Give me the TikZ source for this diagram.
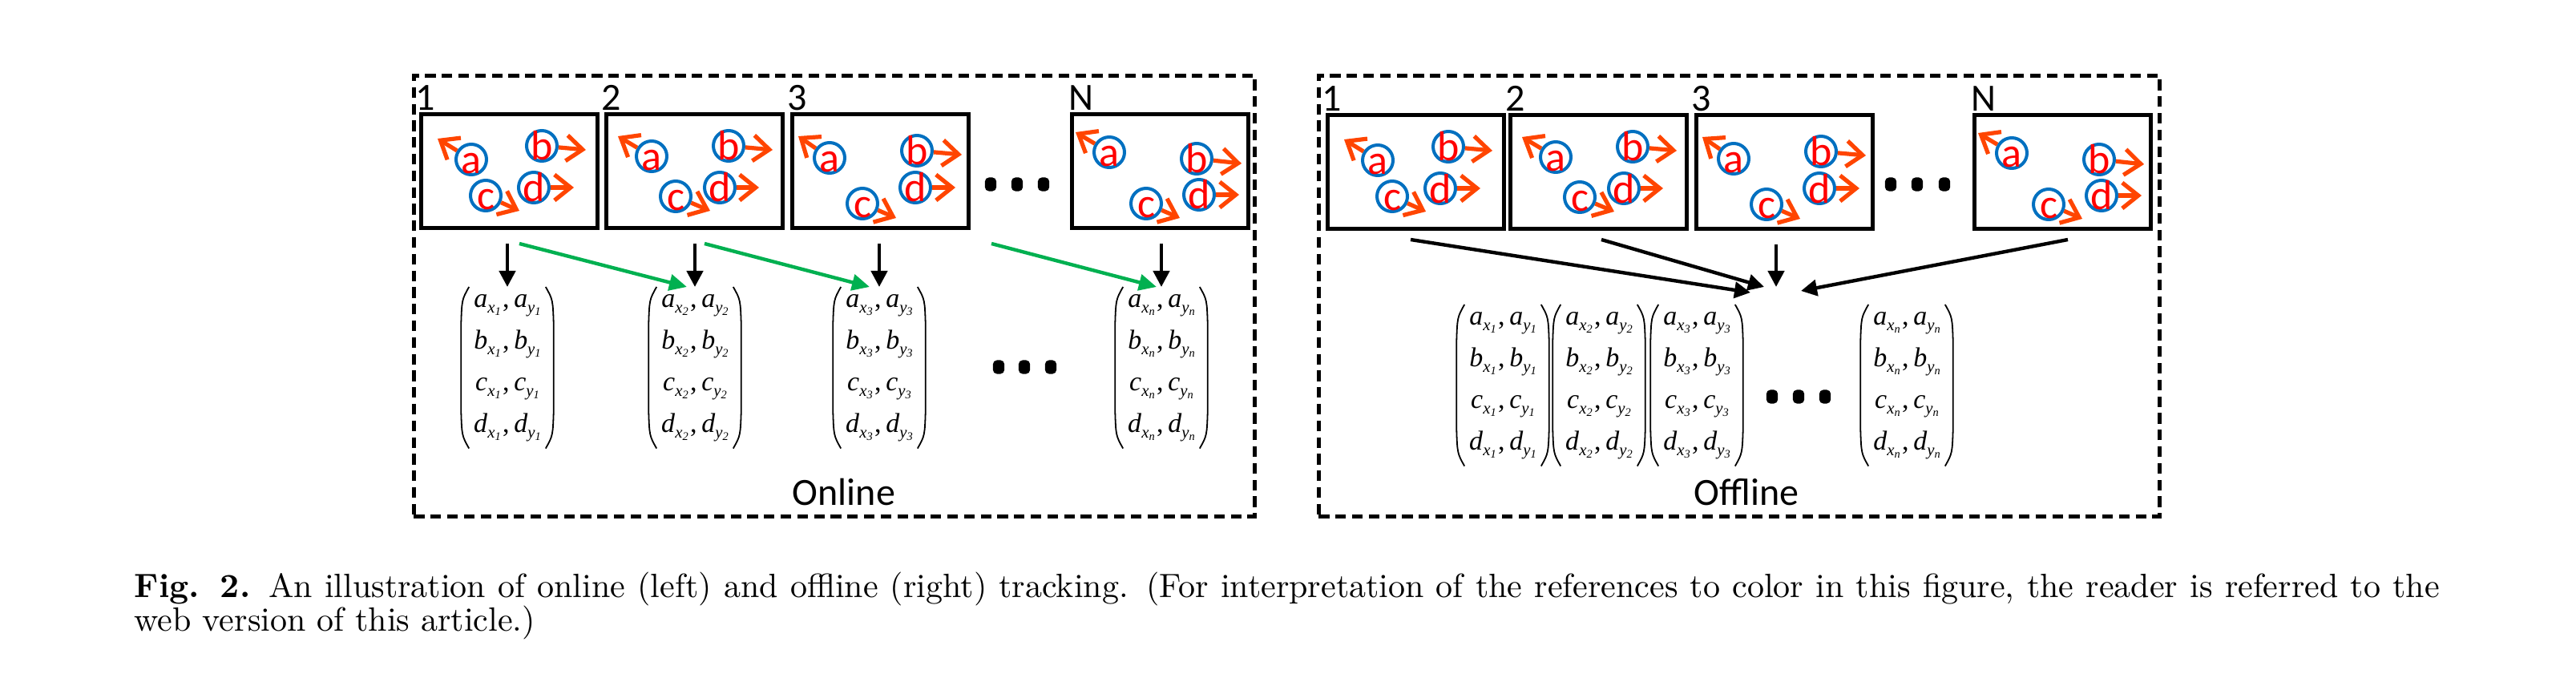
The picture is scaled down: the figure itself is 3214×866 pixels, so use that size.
\documentclass[tikz,border=0pt]{standalone}
\usepackage{fontspec}
\newfontfamily\calib{Carlito}
\newfontfamily\tms{Liberation Serif}
\usetikzlibrary{arrows.meta,calc}
\definecolor{cblue}{RGB}{0,112,192}
\definecolor{cred}{RGB}{255,0,0}
\definecolor{corange}{RGB}{255,69,0}
\definecolor{cgreen}{RGB}{0,176,80}

\newcommand\trackobj[6]{%
  \node[objc] (#1) at (#3,#4) {};
  \coordinate (#1t) at (#5,#6);
  \draw[motion] (#1) -- (#1t);
  \node[objl] (#1l) at (#3,{#4+18}) {#2};
}
\newcommand\contentone[1]{%
  \trackobj{#1a}{a}{65}{59}{23}{33}
  \trackobj{#1b}{b}{153}{42}{208}{47}
  \trackobj{#1c}{c}{83}{104}{125}{123}
  \trackobj{#1d}{d}{143}{94}{193}{94}
}
\newcommand\contenttwo[1]{%
  \trackobj{#1a}{a}{59}{55}{17}{30}
  \trackobj{#1b}{b}{155}{42}{210}{47}
  \trackobj{#1c}{c}{89}{105}{132}{123}
  \trackobj{#1d}{d}{144}{94}{193}{94}
}
\newcommand\contentthree[1]{%
  \trackobj{#1a}{a}{49}{57}{10}{30}
  \trackobj{#1b}{b}{158}{48}{214}{53}
  \trackobj{#1c}{c}{90}{114}{132}{132}
  \trackobj{#1d}{d}{156}{94}{206}{94}
}
\newcommand\contentlast[1]{%
  \trackobj{#1a}{a}{49}{50}{7}{25}
  \trackobj{#1b}{b}{158}{58}{214}{64}
  \trackobj{#1c}{c}{95}{114}{137}{132}
  \trackobj{#1d}{d}{161}{103}{211}{103}
}
% one coordinate symbol with a sub-subscript
\newcommand\sv[3]{\textit{#1}\raisebox{-0.45ex}{\fontsize{5.2}{5.2}\selectfont\textit{#2}\raisebox{-0.35ex}{\fontsize{3.6}{3.6}\selectfont\textit{#3}}}}
\newcommand\mrow[2]{\sv{#1}{x}{#2}\kern0.6pt,\kern1.4pt\sv{#1}{y}{#2}}
\newcommand\mtx[1]{\mrow{a}{#1}\\ \mrow{b}{#1}\\ \mrow{c}{#1}\\ \mrow{d}{#1}}
\newcommand\parpair[1]{%
  \draw[paren] ($(#1.north west)+(10,0)$) .. controls ($(#1.north west)+(1,16)$) .. ($(#1.north west)+(0,48)$)
     -- ($(#1.south west)+(0,-48)$) .. controls ($(#1.south west)+(1,-16)$) .. ($(#1.south west)+(10,0)$);
  \draw[paren] ($(#1.north east)+(-10,0)$) .. controls ($(#1.north east)+(-1,16)$) .. ($(#1.north east)+(0,48)$)
     -- ($(#1.south east)+(0,-48)$) .. controls ($(#1.south east)+(-1,-16)$) .. ($(#1.south east)+(-10,0)$);
}

\begin{document}
\begin{tikzpicture}[x=0.25pt,y=-0.25pt,
  panel/.style={draw,line width=1.2pt,dash pattern=on 3.3pt off 1.9pt,anchor=north west,inner sep=0pt,minimum width=262.25pt,minimum height=137.5pt},
  framebox/.style={draw,line width=1.3pt,minimum width=55pt,minimum height=35.5pt,anchor=north west,inner sep=0pt},
  objc/.style={circle,draw=cblue,line width=1pt,minimum size=9.5pt,inner sep=0pt},
  objl/.style={text=cred,font=\calib\fontsize{13}{13}\selectfont,anchor=base,inner sep=0pt},
  motion/.style={draw=corange,line width=1.3pt,-{Straight Barb[length=5pt,width=8pt,line width=1.3pt]}},
  flab/.style={font=\calib\fontsize{12}{12}\selectfont,anchor=base west,inner sep=0pt},
  dnarr/.style={draw,line width=1.1pt,-{Triangle[length=5pt,width=5pt]}},
  grarr/.style={draw=cgreen,line width=1.1pt,-{Triangle[length=5.5pt,width=5pt]}},
  vdot/.style={fill,rounded corners=1.3pt,minimum width=3.6pt,minimum height=4.3pt,inner sep=0pt},
  mat/.style={inner sep=0pt,anchor=north,minimum width=28.5pt,minimum height=50pt,align=center,font=\tms\fontsize{8.5}{13}\selectfont},
  paren/.style={draw,line width=0.45pt},
  ptitle/.style={font=\calib\fontsize{12}{12}\selectfont,anchor=base,inner sep=0pt},
  captext/.style={font=\fontsize{10.5}{12}\selectfont,anchor=base west,inner sep=0pt}
]
\useasboundingbox (0,0) rectangle (3214,866);

% ---------- panels ----------
\node[panel] (online) at (514,92) {};
\node[panel] (offline) at (1643,92) {};
\node[ptitle] (ontitle) at (1053,630) {Online};
\node[ptitle] (offtitle) at (2179,630) {Offline};

% ---------- online frames ----------
\node[framebox] (on1) at (523,140) {};
\node[framebox] (on2) at (754,140) {};
\node[framebox] (on3) at (986,140) {};
\node[framebox] (onN) at (1335,140) {};
\node[flab] (on1l) at (518,138) {1};
\node[flab] (on2l) at (750,138) {2};
\node[flab] (on3l) at (982,138) {3};
\node[flab] (onNl) at (1333,138) {N};
\begin{scope}[shift={(523,140)}]\contentone{pa}\end{scope}
\begin{scope}[shift={(754,140)}]\contenttwo{pb}\end{scope}
\begin{scope}[shift={(986,140)}]\contentthree{pc}\end{scope}
\begin{scope}[shift={(1335,140)}]\contentlast{pn}\end{scope}
\node[vdot] (ond1) at (1236,230) {};
\node[vdot] (ond2) at (1269,230) {};
\node[vdot] (ond3) at (1302,230) {};

% ---------- online matrices ----------
\node[mat] (m1) at (633,358) {\mtx{1}};
\node[mat] (m2) at (867,358) {\mtx{2}};
\node[mat] (m3) at (1097,358) {\mtx{3}};
\node[mat] (mN) at (1449,358) {\mtx{n}};
\parpair{m1}\parpair{m2}\parpair{m3}\parpair{mN}
\node[vdot] (onm1) at (1246,458) {};
\node[vdot] (onm2) at (1278,458) {};
\node[vdot] (onm3) at (1311,458) {};

\coordinate (s1) at (633,304);
\coordinate (s2) at (867,304);
\coordinate (s3) at (1097,304);
\coordinate (sN) at (1449,304);
\draw[dnarr] (s1) -- (m1.north);
\draw[dnarr] (s2) -- (m2.north);
\draw[dnarr] (s3) -- (m3.north);
\draw[dnarr] (sN) -- (mN.north);
\coordinate (g1) at (648,304);
\coordinate (g2) at (879,304);
\coordinate (g3) at (1237,304);
\draw[grarr] (g1) -- ([xshift=-2.5pt]m2.north);
\draw[grarr] (g2) -- ([xshift=-3pt]m3.north);
\draw[grarr] (g3) -- ([xshift=-1.5pt]mN.north);

% ---------- offline frames ----------
\node[framebox] (of1) at (1654,141) {};
\node[framebox] (of2) at (1882,141) {};
\node[framebox] (of3) at (2114,141) {};
\node[framebox] (ofN) at (2461,141) {};
\node[flab] (of1l) at (1649,139) {1};
\node[flab] (of2l) at (1878,139) {2};
\node[flab] (of3l) at (2110,139) {3};
\node[flab] (ofNl) at (2459,139) {N};
\begin{scope}[shift={(1654,141)}]\contentone{qa}\end{scope}
\begin{scope}[shift={(1882,141)}]\contenttwo{qb}\end{scope}
\begin{scope}[shift={(2114,141)}]\contentthree{qc}\end{scope}
\begin{scope}[shift={(2461,141)}]\contentlast{qn}\end{scope}
\node[vdot] (ofd1) at (2359,230) {};
\node[vdot] (ofd2) at (2392,230) {};
\node[vdot] (ofd3) at (2426,230) {};

% ---------- offline matrices ----------
\node[mat] (k1) at (1875,380) {\mtx{1}};
\node[mat] (k2) at (1995,380) {\mtx{2}};
\node[mat] (k3) at (2117,380) {\mtx{3}};
\node[mat] (kN) at (2379,380) {\mtx{n}};
\parpair{k1}\parpair{k2}\parpair{k3}\parpair{kN}
\node[vdot] (ofm1) at (2211,495) {};
\node[vdot] (ofm2) at (2244,495) {};
\node[vdot] (ofm3) at (2277,495) {};

\coordinate (hub) at (2216,361);
\coordinate (f1) at (1760,299);
\coordinate (f2) at (1998,299);
\coordinate (f3) at (2216,305);
\coordinate (f4) at (2580,299);
\draw[dnarr] (f1) -- ([xshift=-8pt,yshift=-1pt]hub);
\draw[dnarr] (f2) -- ([xshift=-3.75pt,yshift=0.75pt]hub);
\draw[dnarr] (f3) -- ([yshift=0.75pt]hub);
\draw[dnarr] (f4) -- ([xshift=7.75pt,yshift=-0.5pt]hub);

% ---------- caption ----------
\node[captext] (cap1) at (167,745) {\makebox[719pt][s]{\textbf{Fig. 2.} An illustration of online (left) and offline (right) tracking. (For interpretation of the references to color in this figure, the reader is referred to the}};
\node[captext] (cap2) at (167,787) {web version of this article.)};
\end{tikzpicture}
\end{document}
